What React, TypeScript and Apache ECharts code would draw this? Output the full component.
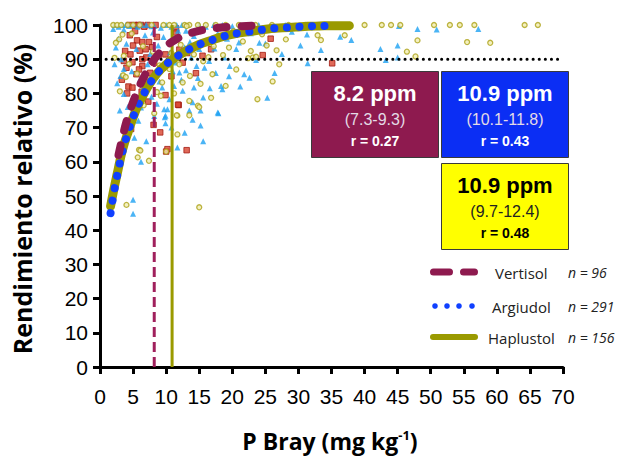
import React, { useEffect, useRef } from "react";
import * as echarts from "echarts";

// ---------- data ----------
const vertisolPts: number[][] = [
  [4.4,100],[5.2,100],[5.8,100],[6.2,100],[6.7,99.5],[7.2,100],[8.4,100],[11.5,99],[5.3,98.2],[4.5,97],
  [5.6,95.5],[6.4,95],[7.4,95],[6.9,92.9],[3.8,92.4],[4.6,91.4],[7.9,93.5],[6.4,90],[4.9,89.1],[6.4,88],
  [8.2,89],[8.9,91.1],[9.9,91.4],[11.5,97.8],[11.5,95.8],[3.6,89.5],[4.3,82],[4.9,81.7],[4.1,80],[5.5,85.6],
  [6.9,83.4],[9.9,79.5],[11.9,76.6],[7.3,77.6],[6.3,80.5],[25.8,96],[24.6,91.2],[35.1,88.8],[16.8,92.9],[15.5,91],
  [14.5,85.9],[10,63],[13.1,63.4],[9.1,68.6],[11.8,76.7],[4.7,69.6],[8.1,70.8],[10.2,63.7],[5.9,87],[7.6,86],
  [3.3,84],[5.0,94],[8.6,96.5],[6.0,92.5],[9.5,87.5],[7.0,90.5],[12.5,89],[10.8,85],[4.0,87.5],[5.4,76.5],
  [13.2,91.8],[12.0,92.8]
];
const argiudolPts: number[][] = [
  [2.2,100],[2.8,99.5],[3.4,100],[3.9,100],[5.0,100],[5.7,99.5],[6.3,100],[7.0,100],[7.8,99.6],[10.0,100],
  [10.8,99.5],[11.6,100],[12.4,100],[15.0,100],[16.0,99.5],[17.2,100],[18.5,100],[20.0,99.6],[21.3,100],[22.6,99.5],
  [24.0,100],[26.0,99.6],[28.0,100],[30.5,99.5],[33.0,100],[35.5,99.6],
  [45.2,99.7],[48,98.8],[50.9,98.7],[57.2,98.8],[38,95.6],[42.4,93],[45,94],[45,90.5],[43.2,89.8],
  [24.1,94.8],[25,94.6],[30.3,94],[31.3,97.2],[33.4,92.7],[36.3,96.6],[21.8,85.6],[22.6,84.6],[21.2,82],[16.6,81.5],
  [18.3,82.2],[18.5,81.2],[15.6,78.8],[25.3,78.7],[17.9,74.2],[31.4,88.8],[15.2,75],[20.6,93],[21,94.9],[17.3,93.1],
  [2.4,93.4],[3.6,98.7],[4.4,99.7],[8.2,99.7],[9.2,99.2],[13,98.3],[14.2,96.8],[3.6,87.1],[3.1,85.1],[3.6,79.8],
  [4.9,78.3],[6.2,75.9],[9.4,81.7],[10.5,78.3],[11.2,82.2],[12,86.1],[12.5,80.8],[14.2,81.7],[14,77.4],[10.2,75.4],
  [9.9,73.5],[3.6,71],[8.2,73.4],[17.8,74.4],[13.5,75],[9.7,75.4],[11.7,64.2],[14,72.3],[15.2,70.6],[9.9,71.3],
  [6.2,60],[5,48.9],[5,44.8],[9.8,73],
  [2.8,96],[4.0,94.5],[5.5,93],[6.8,97],[7.6,91.5],[8.8,94],[9.6,96.5],[10.6,92],[11.4,89],[12.8,93.5],
  [13.8,90.5],[14.6,88],[3.2,90],[4.8,86.5],[6.0,84],[7.2,88.5],[8.4,86],[9.0,83.5],[10.3,88.5],[11.0,86.5],
  [12.3,84],[13.0,86.8],[14.8,84.5],[15.8,87.5],[16.5,89.5],[17.5,86],[18.8,90.5],[19.6,88],[15.0,93],[16.2,95.5],
  [17.8,97.5],[19.2,96],[2.6,83],[4.2,76],[5.8,72],[7.8,79],[8.6,77],[10.8,70],[12.8,68.5],[7.0,66],
  [15.6,66],[19.5,85],[22.8,97.6],[23.6,89.8],[27.5,91.5],[29.0,98],[26.4,86],[2.2,88.5],[3.0,75],[5.2,67],
  [6.6,82],[8.0,97.8],[11.8,98.3],[13.6,95],[2.0,98.8]
];
const haplustolPts: number[][] = [
  [2.0,100],[2.6,100],[3.2,100],[4.2,100],[5.0,100],[6.0,100],[7.8,100],[9.6,100],[10.5,100],[11.2,100],
  [12.8,100],[13.5,100],[14.8,100],[16.0,100],[17.5,100],[19.0,100],[21.0,100],[23.5,100],[26.0,100],[28.5,100],
  [31.0,100],[34.0,100],[37.7,100],[40.0,100],[42.6,100],[44.0,100],[45.4,100],[50.5,100],[52.9,100],[54.4,100],
  [56.6,100],[64.2,100],[66.2,100],
  [48,95.5],[55.5,95],[59,94.8],[46.4,92.2],[47.7,90.8],
  [28.1,95.8],[26.7,92.6],[27.1,88.5],[26.1,83.5],[23.8,78.3],[20.6,87],[22.8,92.4],[23.1,90.5],[23.6,90.7],[22.4,90.3],
  [16.8,78.7],[14.8,76.4],[32.9,97],[33.4,95.6],[37,97],[19.5,93.4],[15,76],[13.5,77.8],[11.7,73.5],
  [15,46.7],[4,47.4],[5.9,63.5],[7.4,60.3],[5.7,61.3],[11.7,68],[11.6,73.6],[13.5,73.6],[10,63],[6.1,63.3],
  [2.9,95.8],[2.4,94.8],[3.6,91],[3.5,85.3],[3.9,84.8],[9.4,83.2],[9.2,79.3],[12.5,83.2],[13.6,85.1],[10.5,87.1],
  [13.1,99.7],
  [4.8,97.5],[6.5,93.8],[8.0,92.2],[9.0,88.2],[10.8,91.8],[12.2,94.2],[14.2,91.4],[15.6,89.4],[17.2,93.8],[18.6,91.2],
  [4.4,88.6],[5.6,85.8],[7.0,82],[8.6,80.4],[11.2,80],[15.2,82.8],[17.0,85.6],[18.2,96.4],[20.2,98.2],[24.5,97.3],
  [2.2,90.4],[3.0,80.6],[6.6,76.5],[8.2,74.2],[12.0,88.5],[16.4,90.6],[19.0,82.2],[21.6,95.2],[25.2,94.0],[3.4,97.2]
];

const vertisolCurve: number[][] = [
  [2.8,62],[3.5,68],[4.2,73],[5.4,79.5],[6.3,83.5],[7.4,87.5],[8.2,90],[10,93.8],[11.5,95.8],[13,97.2],
  [15,98.3],[17,99],[20,99.5],[23,99.8]
];
const argiudolCurve: number[][] = [
  [1.6,45],[2.1,51],[2.6,56],[3.4,63],[4.3,69],[5.4,75],[6.4,79],[7.4,82.5],[8.7,86],[10,88.5],
  [11.4,90.5],[13.2,92.6],[15,94.3],[16.8,95.5],[18.5,96.6],[20.6,97.5],[22.3,98],[24.1,98.5],[25.9,99],[27.6,99.2],
  [29.6,99.4],[31.4,99.6],[33.2,99.7],[35.2,99.8]
];
const haplustolCurve: number[][] = [
  [1.6,47],[2.1,52],[2.6,56.5],[3.4,63.5],[4.3,69],[5.4,75],[6.4,79],[7.4,82.5],[8.7,86],[10,88.5],
  [11.4,90.5],[13.2,92.6],[15,94.3],[16.8,95.5],[18.5,96.6],[20.6,97.5],[22.3,98],[24.1,98.5],[25.9,99],[27.6,99.2],
  [29.6,99.4],[31.4,99.6],[33.2,99.7],[35.2,99.8],[37.7,99.8]
];

const criticalX = { vertisol: 8.2, argiudol: 10.9, haplustol: 10.9 };
const ryThreshold = 90;
const xRange = [0, 70];
const yRange = [0, 100];

const soils = ["Vertisol", "Argiudol", "Haplustol"];
const soilN = ["n = 96", "n = 291", "n = 156"];
const boxMain = ["8.2 ppm", "10.9 ppm", "10.9 ppm"];
const boxCI = ["(7.3-9.3)", "(10.1-11.8)", "(9.7-12.4)"];
const boxR = ["r = 0.27", "r = 0.43", "r = 0.48"];

const MAROON = "#8E1A4F";
const BLUE = "#1040FF";
const OLIVE = "#9A9A00";

export default function App() {
  const ref = useRef<HTMLDivElement>(null);
  useEffect(() => {
    if (!ref.current) return;
    const chart = echarts.init(ref.current, null, { renderer: "svg" });
    const tickFont = "'Liberation Sans', Arial, sans-serif";
    const titleFont = "'Open Sans', sans-serif";

    const box = (x: number, y: number, fill: string, i: number, dark: boolean) => ({
      type: "group",
      children: [
        { type: "rect", shape: { x, y, width: 127, height: 86 }, style: { fill, stroke: "#3a3a3a", lineWidth: 1 } },
        { type: "text", x: x + 63.5, y: y + 22, style: { text: boxMain[i], fill: dark ? "#000" : "#fff", font: `bold 22px ${tickFont}`, textAlign: "center", textVerticalAlign: "middle" } },
        { type: "text", x: x + 63.5, y: y + 48, style: { text: boxCI[i], fill: dark ? "#222" : "#e4dbe6", font: `16px ${tickFont}`, textAlign: "center", textVerticalAlign: "middle" } },
        { type: "text", x: x + 63.5, y: y + 69, style: { text: boxR[i], fill: dark ? "#000" : "#fff", font: `bold 14px ${tickFont}`, textAlign: "center", textVerticalAlign: "middle" } },
      ],
    });

    const legY = [272, 306, 337];
    const legendEls: any[] = [
      { type: "line", shape: { x1: 433.5, y1: legY[0], x2: 474.5, y2: legY[0] }, style: { stroke: MAROON, lineWidth: 7, lineCap: "round", lineDash: [16, 14] } },
      ...[435, 447, 459, 472].map((cx) => ({ type: "circle", shape: { cx, cy: legY[1], r: 2.8 }, style: { fill: BLUE } })),
      { type: "line", shape: { x1: 433, y1: legY[2], x2: 475, y2: legY[2] }, style: { stroke: OLIVE, lineWidth: 6, lineCap: "round" } },
      ...soils.map((s, i) => ({ type: "text", x: [495, 492, 488][i], y: legY[i] + 1, style: { text: s, fill: "#222", font: `15px ${titleFont}`, textVerticalAlign: "middle" } })),
      ...soilN.map((s, i) => ({ type: "text", x: 568, y: legY[i], style: { text: s, fill: "#222", font: `italic 14px ${titleFont}`, textVerticalAlign: "middle" } })),
    ];

    chart.setOption({
      animation: false,
      backgroundColor: "#fff",
      grid: { left: 100, right: 59, top: 25, bottom: 89 },
      xAxis: {
        type: "value", min: xRange[0], max: xRange[1], interval: 5,
        splitLine: { show: false },
        axisLine: { lineStyle: { color: "#000", width: 3 } },
        axisTick: { length: 7, lineStyle: { color: "#000", width: 3 } },
        axisLabel: { fontSize: 21, color: "#000", fontFamily: tickFont, margin: 19 },
      },
      yAxis: {
        type: "value", min: yRange[0], max: yRange[1], interval: 10,
        splitLine: { show: false },
        axisLine: { show: true, lineStyle: { color: "#000", width: 3 } },
        axisTick: { show: true, length: 7, lineStyle: { color: "#000", width: 3 } },
        axisLabel: { fontSize: 21, color: "#000", fontFamily: tickFont, margin: 12 },
      },
      series: [
        { type: "scatter", name: "Vertisol", data: vertisolPts, symbol: "rect", symbolSize: 5.5, itemStyle: { color: "#D8432E", borderColor: "#A31A12", borderWidth: 1 } },
        { type: "scatter", name: "Argiudol", data: argiudolPts, symbol: "triangle", symbolSize: 6, itemStyle: { color: "#1DA1F2" } },
        { type: "scatter", name: "Haplustol", data: haplustolPts, symbol: "circle", symbolSize: 5, itemStyle: { color: "#F2EDB0", borderColor: "#ABA117", borderWidth: 1.3 } },
        { type: "line", data: [[xRange[0], ryThreshold], [xRange[1], ryThreshold]], symbol: "none", lineStyle: { color: "#000", width: 3, type: [0.1, 6], cap: "round" } },
        { type: "line", data: [[criticalX.vertisol, 0], [criticalX.vertisol, 100]], symbol: "none", lineStyle: { color: "#A0205C", width: 3, type: [10, 5] } },
        { type: "line", data: [[criticalX.haplustol, 0], [criticalX.haplustol, 100]], symbol: "none", lineStyle: { color: OLIVE, width: 3 } },
        { type: "line", data: haplustolCurve, smooth: 0.4, symbol: "none", lineStyle: { color: OLIVE, width: 9, cap: "round", join: "round" } },
        { type: "line", data: argiudolCurve, smooth: 0.4, symbol: "none", lineStyle: { color: BLUE, width: 8, type: [0.1, 12.5], cap: "round" } },
        { type: "line", data: vertisolCurve, smooth: 0.4, symbol: "none", lineStyle: { color: MAROON, width: 8, type: [10, 15], cap: "round" } },
      ],
      graphic: [
        box(311.5, 71.5, MAROON, 0, false),
        box(441.5, 71.5, "#0B2EF4", 1, false),
        box(441.5, 163.5, "#FFFF00", 2, true),
        ...legendEls,
        { type: "text", x: 22, y: 199, rotation: Math.PI / 2, style: { text: "Rendimiento relativo (%)", fill: "#000", font: `bold 25px ${titleFont}`, textAlign: "center", textVerticalAlign: "middle" } },
        {
          type: "text", x: 330, y: 441,
          style: {
            text: "{a|P Bray (mg kg}{s|-1}{a|)}", textAlign: "center", textVerticalAlign: "middle",
            rich: {
              a: { fontFamily: titleFont, fontWeight: "bold", fontSize: 23, fill: "#000" },
              s: { fontFamily: titleFont, fontWeight: "bold", fontSize: 13, fill: "#000", padding: [0, 0, 13, 0] },
            },
          },
        },
      ],
    });
    return () => chart.dispose();
  }, []);
  return <div ref={ref} style={{ position: "fixed", left: 0, top: 0, width: 622, height: 456, background: "#fff" }} />;
}
